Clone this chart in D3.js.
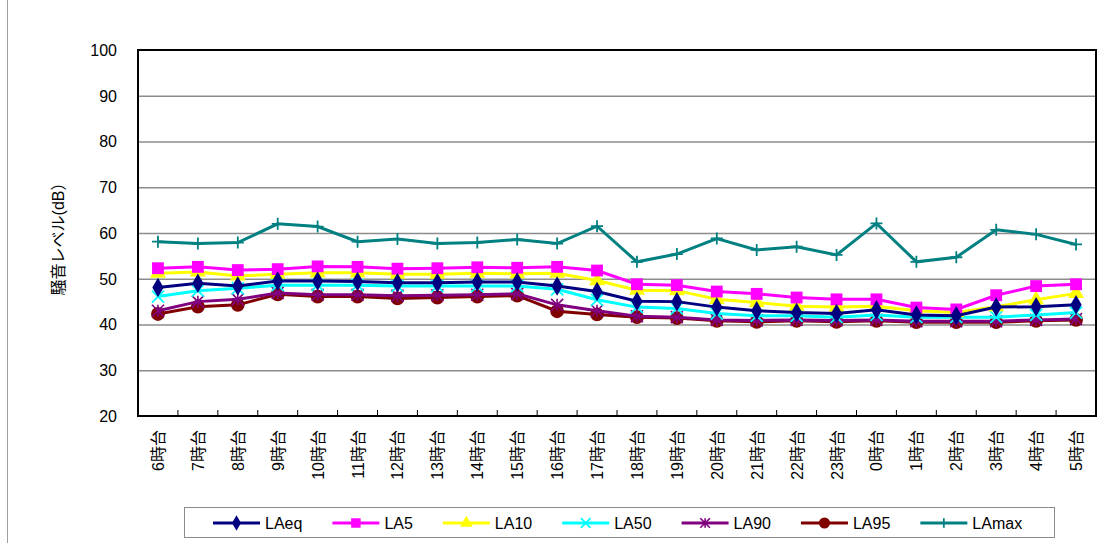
<!DOCTYPE html>
<meta charset="utf-8">
<script src="https://d3js.org/d3.v7.min.js"></script>
<style>
  body { margin: 0; background: #fff; }
  text { font-family: "Liberation Sans", Arial, "Noto Sans CJK JP", sans-serif; fill: #000; }
</style>
<div id="chart"></div>
<script>
// Hours of the day (category labels)
const hours = ["6時台","7時台","8時台","9時台","10時台","11時台","12時台","13時台","14時台","15時台","16時台","17時台",
               "18時台","19時台","20時台","21時台","22時台","23時台","0時台","1時台","2時台","3時台","4時台","5時台"];

// Series values (dB)
const LAeq  = [48.1,49.0,48.4,49.5,49.5,49.4,49.1,49.1,49.3,49.3,48.4,47.2,45.1,45.0,43.8,43.0,42.6,42.4,43.2,42.1,41.9,43.8,43.9,44.3];
const LA5   = [52.3,52.6,51.9,52.1,52.7,52.6,52.2,52.3,52.5,52.4,52.6,51.8,48.8,48.6,47.2,46.7,45.9,45.5,45.5,43.7,43.3,46.4,48.4,48.8];
const LA10  = [51.2,51.5,50.6,51.0,51.3,51.3,51.0,51.0,51.2,51.1,51.2,49.6,47.5,47.4,45.5,44.8,44.0,43.8,44.0,43.0,42.6,43.9,45.4,46.8];
const LA50  = [46.1,47.4,47.9,48.6,48.6,48.6,48.4,48.4,48.4,48.4,47.7,45.4,43.8,43.5,42.4,41.9,41.9,41.6,42.1,41.6,41.6,41.6,42.1,42.6];
const LA90  = [43.0,45.0,45.5,46.9,46.5,46.5,46.3,46.4,46.5,46.7,44.3,43.0,41.8,41.6,41.0,40.9,41.0,40.9,41.0,40.7,40.7,40.7,41.0,41.2];
const LA95  = [42.3,43.9,44.3,46.6,46.1,46.1,45.7,45.9,46.1,46.3,42.9,42.2,41.6,41.4,40.8,40.6,40.8,40.6,40.8,40.5,40.5,40.5,40.8,41.0];
const LAmax = [58.1,57.7,57.9,62.0,61.4,58.1,58.7,57.7,57.9,58.6,57.7,61.5,53.7,55.4,58.8,56.3,57.0,55.2,62.1,53.7,54.7,60.7,59.7,57.5];

const yTicks = [20,30,40,50,60,70,80,90,100];

const series = [
  {name: "LAeq",  values: LAeq,  color: "#000080", symbol: "diamond"},
  {name: "LA5",   values: LA5,   color: "#FF00FF", symbol: "square"},
  {name: "LA10",  values: LA10,  color: "#FFFF00", symbol: "triangle"},
  {name: "LA50",  values: LA50,  color: "#00FFFF", symbol: "x"},
  {name: "LA90",  values: LA90,  color: "#800080", symbol: "star"},
  {name: "LA95",  values: LA95,  color: "#800000", symbol: "circle"},
  {name: "LAmax", values: LAmax, color: "#008080", symbol: "plus"}
];

const W = 1112, H = 543;
const plot = {left: 138, right: 1096, top: 50, bottom: 416};

const svg = d3.select("#chart").append("svg")
    .attr("width", W).attr("height", H);

// outer frame edge (left side visible)
svg.append("line").attr("x1", 7.5).attr("x2", 7.5).attr("y1", 0).attr("y2", H)
    .attr("stroke", "#a0a0a0");

const x = d3.scaleBand().domain(hours).range([plot.left, plot.right]);
const y = d3.scaleLinear().domain([20, 100]).range([plot.bottom, plot.top]);

// gridlines
svg.append("g").selectAll("line")
  .data(yTicks.filter(t => t > 20 && t < 100))
  .join("line")
    .attr("x1", plot.left).attr("x2", plot.right)
    .attr("y1", d => y(d) + 0.5).attr("y2", d => y(d) + 0.5)
    .attr("stroke", "#8c8c8c").attr("stroke-width", 1.3);

// x tick marks at band edges (inside)
svg.append("g").selectAll("line")
  .data(hours.slice(1))
  .join("line")
    .attr("x1", d => x(d)).attr("x2", d => x(d))
    .attr("y1", plot.bottom).attr("y2", plot.bottom - 6)
    .attr("stroke", "#000");

// y axis labels
svg.append("g").selectAll("text")
  .data(yTicks)
  .join("text")
    .attr("x", 117).attr("y", d => y(d))
    .attr("dy", "0.36em")
    .attr("text-anchor", "end")
    .style("font-size", "16px")
    .text(d => d);

// x axis labels (rotated)
svg.append("g").selectAll("text")
  .data(hours)
  .join("text")
    .attr("transform", d => `translate(${x(d) + x.bandwidth() / 2 + 6},430) rotate(-90)`)
    .attr("text-anchor", "end")
    .style("font-size", "16px")
    .text(d => d);

// y axis title
svg.append("text")
  .attr("transform", "translate(64,235) rotate(-90)")
  .attr("text-anchor", "middle")
  .style("font-size", "16px")
  .text("騒音レベル(dB）");

const symbolTypes = {
  diamond: d3.symbolDiamond, square: d3.symbolSquare, triangle: d3.symbolTriangle,
  circle: d3.symbolCircle
};

function drawMarker(g, s, cx, cy, k) {
  const r = 6 * k;
  if (s.symbol === "x") {
    g.append("path").attr("d", `M${cx-r},${cy-r}L${cx+r},${cy+r}M${cx-r},${cy+r}L${cx+r},${cy-r}`)
      .attr("stroke", s.color).attr("stroke-width", 1.8).attr("fill", "none");
  } else if (s.symbol === "plus") {
    g.append("path").attr("d", `M${cx-r},${cy}L${cx+r},${cy}M${cx},${cy-r}L${cx},${cy+r}`)
      .attr("stroke", s.color).attr("stroke-width", 1.8).attr("fill", "none");
  } else if (s.symbol === "star") {
    g.append("path").attr("d", `M${cx-r},${cy-r}L${cx+r},${cy+r}M${cx-r},${cy+r}L${cx+r},${cy-r}M${cx},${cy-r}L${cx},${cy+r}`)
      .attr("stroke", s.color).attr("stroke-width", 1.6).attr("fill", "none");
  } else {
    const sizes = {diamond: 110, square: 140, triangle: 110, circle: 150};
    g.append("path")
      .attr("transform", `translate(${cx},${cy})`)
      .attr("d", d3.symbol().type(symbolTypes[s.symbol]).size(sizes[s.symbol] * k * k)())
      .attr("fill", s.color);
  }
}

const line = d3.line()
    .x((d, i) => x(hours[i]) + x.bandwidth() / 2)
    .y(d => y(d));

// draw series in reverse so LAeq sits on top like the original
const seriesG = svg.append("g");
series.slice().reverse().forEach(s => {
  const g = seriesG.append("g");
  g.append("path")
    .attr("d", line(s.values))
    .attr("fill", "none")
    .attr("stroke", s.color)
    .attr("stroke-width", 3);
  s.values.forEach((v, i) => drawMarker(g, s, x(hours[i]) + x.bandwidth() / 2, y(v), 1));
});

// plot frame
svg.append("rect")
  .attr("x", plot.left).attr("y", plot.top)
  .attr("width", plot.right - plot.left).attr("height", plot.bottom - plot.top)
  .attr("fill", "none").attr("stroke", "#000").attr("stroke-width", 2);

// legend
const legend = svg.append("g");
legend.append("rect")
  .attr("x", 184.5).attr("y", 507.5).attr("width", 870).attr("height", 30)
  .attr("fill", "#fff").attr("stroke", "#8c8c8c");

let lx = 213;
const ly = 523;
series.forEach(s => {
  const g = legend.append("g");
  g.append("line").attr("x1", lx).attr("x2", lx + 47).attr("y1", ly).attr("y2", ly)
    .attr("stroke", s.color).attr("stroke-width", 3);
  drawMarker(g, s, lx + 23.5, ly, 0.8);
  const t = g.append("text").attr("x", lx + 52).attr("y", ly).attr("dy", "0.36em")
    .style("font-size", "16px").text(s.name);
  lx += 52 + t.node().getComputedTextLength() + 30;
});
</script>
